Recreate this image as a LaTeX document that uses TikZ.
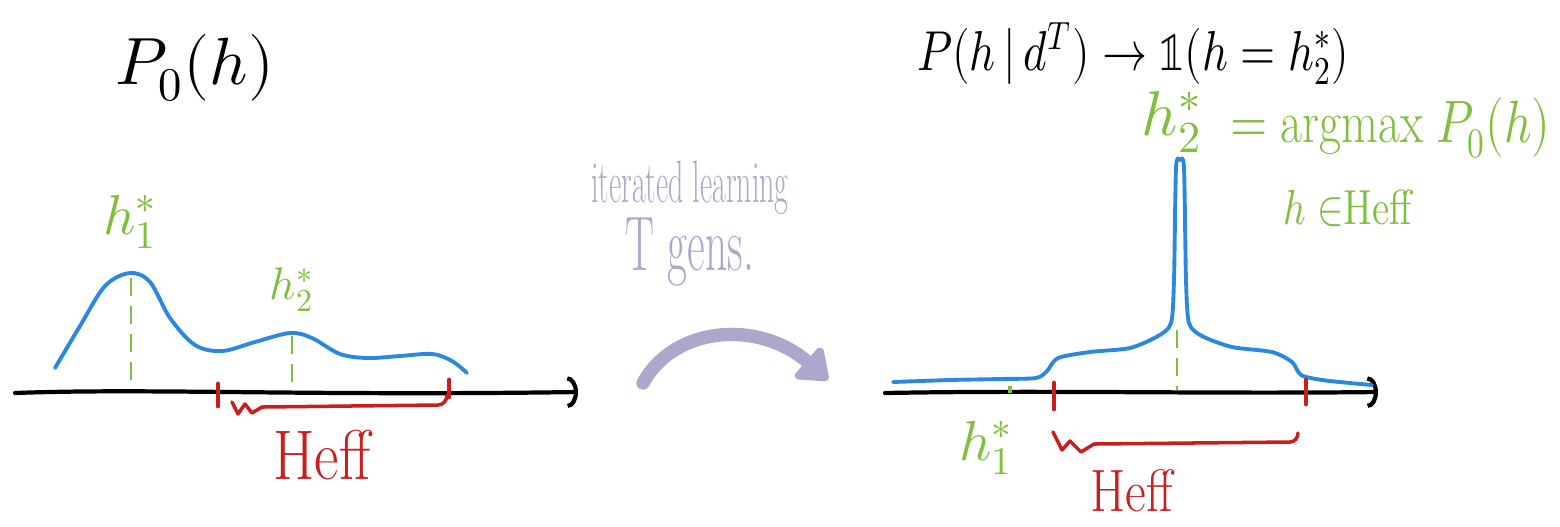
\documentclass[tikz,border=0pt]{standalone}
\usepackage{unicode-math}
\usepackage{tikz}
\usetikzlibrary{positioning,arrows.meta,calc}

\definecolor{curveblue}{RGB}{42,136,224}
\definecolor{peakgreen}{RGB}{128,190,62}
\definecolor{effred}{RGB}{200,30,30}
\definecolor{lavender}{RGB}{172,168,205}

\begin{document}
\begin{tikzpicture}[
    x=0.01cm, y=-0.01cm,
    % Hand-drawn horizontal axis with a curled tip
    axis/.style={
        draw=black,
        line width=1.2pt,
        line cap=round,
        -{Arc Barb[length=3pt,width=9pt]}
    },
    % Blue density curves
    density/.style={
        draw=curveblue,
        line width=1.1pt,
        line cap=round,
        line join=round
    },
    % Green dashed drop lines under the peaks
    peakline/.style={
        draw=peakgreen,
        line width=0.8pt,
        dash pattern=on 5pt off 3pt
    },
    % Red marks at the ends of Heff
    effmark/.style={
        draw=effred,
        line width=1.4pt,
        line cap=round
    },
    % Red hand brace under Heff
    effbrace/.style={
        draw=effred,
        line width=1pt,
        line cap=round,
        line join=round
    },
    % Text styles
    blacklabel/.style={text=black, inner sep=1pt},
    hlabel/.style={text=peakgreen, inner sep=1pt},
    efflabel/.style={text=effred, inner sep=1pt},
    handtext/.style={text=lavender, inner sep=1pt},
    % Thick lavender arrow between the two panels
    bigarrow/.style={
        draw=lavender,
        line width=3.8pt,
        line cap=round,
        -{Triangle[round,length=9pt,width=13pt]}
    }
]
\useasboundingbox (0,0) rectangle (1560,526);

% --- LEFT PANEL: prior P_0(h) ---
\node[blacklabel, font=\fontsize{19}{23}\selectfont] (priortitle) at (195,68) {$P_0(h)$};

\coordinate (laxstart) at (15,393);
\coordinate (laxend) at (578,392);
\draw[axis] (laxstart) .. controls (150,388) and (300,396) .. (laxend);

\draw[density] plot[smooth, tension=0.55] coordinates {
    (55,368) (80,326) (105,286) (130,273) (150,282) (170,318)
    (195,345) (222,351) (255,342) (290,333) (312,338) (340,354)
    (368,358) (400,356) (432,354) (452,361) (467,373)};

\coordinate (lpeakA) at (131,278);
\coordinate (lpeakB) at (292,336);
\coordinate (lfootA) at (131,390);
\coordinate (lfootB) at (292,391);
\draw[peakline] (lpeakA) -- (lfootA);
\draw[peakline] (lpeakB) -- (lfootB);

\node[hlabel, font=\fontsize{16}{19}\selectfont] (lhA) at (130,222) {$h_1^*$};
\node[hlabel, font=\fontsize{13}{16}\selectfont] (lhB) at (292,290) {$h_2^*$};

\coordinate (leffL) at (218,384);
\coordinate (leffR) at (449,380);
\draw[effmark] (leffL) -- ++(0,22);
\draw[effmark] (leffR) -- ++(0,17);

\coordinate (lbraceL) at (232,402);
\coordinate (lbraceR) at (447,395);
\draw[effbrace] (lbraceL) -- (238,414) -- (245,404) -- (252,413) -- (262,407)
    -- (438,405) to[out=0,in=-90] (lbraceR);
\node[efflabel, font=\fontsize{20}{24}\selectfont] (leff) at (322,455)
    {\scalebox{0.85}[1]{Heff}};

% --- MIDDLE: iterated learning arrow ---
\node[handtext, font=\fontsize{17}{20}\selectfont] (iterlabel) at (690,188)
    {\scalebox{0.5}[1]{iterated learning}};
\node[handtext, font=\fontsize{22}{26}\selectfont] (genlabel) at (690,252)
    {\scalebox{0.56}[1]{T gens.}};

\coordinate (arrowstart) at (643,383);
\coordinate (arrowend) at (828,380);
\draw[bigarrow] (arrowstart) .. controls (675,325) and (760,320) .. (arrowend);

% --- RIGHT PANEL: posterior after T generations ---
\node[blacklabel, font=\fontsize{16}{20}\selectfont] (posttitle) at (1133,54)
    {\scalebox{0.8}[1]{$P(h\,|\,d^T)\to\symbb{1}(h=h_2^*)$}};

\node[hlabel, font=\fontsize{18}{22}\selectfont] (rhB) at (1172,122) {$h_2^*$};
\node[hlabel, font=\fontsize{17}{21}\selectfont, anchor=west] (argmax) at (1226,128)
    {\scalebox{0.8}[1]{$=\mathrm{argmax}\;P_0(h)$}};
\node[hlabel, font=\fontsize{14}{17}\selectfont] (domain) at (1348,208)
    {\scalebox{0.8}[1]{$h\in$Heff}};

\coordinate (raxstart) at (885,393);
\coordinate (raxend) at (1378,392);
\draw[axis] (raxstart) .. controls (1050,390) and (1200,394) .. (raxend);

\draw[density] plot[smooth, tension=0.45] coordinates {
    (893,382) (950,380) (1000,379) (1036,378) (1047,371) (1058,358)
    (1090,352) (1130,348) (1158,336) (1171,323) (1174,280) (1176,168)
    (1180,160) (1184,168) (1186,280) (1189,323) (1202,336) (1232,347)
    (1272,352) (1292,362) (1301,375) (1322,380) (1350,383) (1372,385)};

\coordinate (rpeak) at (1177,330);
\coordinate (rfoot) at (1177,390);
\draw[peakline] (rpeak) -- (rfoot);

\coordinate (rhAmark) at (1010,386);
\draw[draw=peakgreen, line width=1pt] (rhAmark) -- ++(0,7);
\node[hlabel, font=\fontsize{16}{19}\selectfont] (rhA) at (986,448) {$h_1^*$};

\coordinate (reffL) at (1054,383);
\coordinate (reffR) at (1306,380);
\draw[effmark] (reffL) -- ++(0,26);
\draw[effmark] (reffR) -- ++(0,24);

\coordinate (rbraceL) at (1053,432);
\coordinate (rbraceR) at (1298,433);
\draw[effbrace] (rbraceL) -- (1062,450) -- (1070,441) -- (1081,452) -- (1094,444)
    -- (1290,442) to[out=0,in=-90] (rbraceR);
\node[efflabel, font=\fontsize{17}{21}\selectfont] (reff) at (1132,491)
    {\scalebox{0.85}[1]{Heff}};

\end{tikzpicture}
\end{document}
